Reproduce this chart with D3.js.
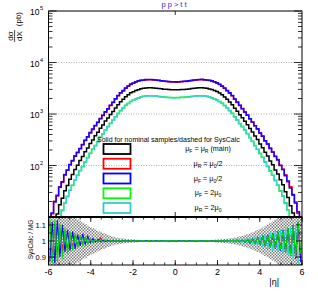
<!DOCTYPE html>
<html><head><meta charset="utf-8">
<script src="https://cdnjs.cloudflare.com/ajax/libs/d3/7.8.5/d3.min.js"></script>
<style>
html,body{margin:0;padding:0;background:#fff;}
svg{display:block;font-family:"Liberation Sans",Arial,Helvetica,sans-serif;}
</style></head>
<body>
<svg id="c" width="318" height="291"></svg>
<script>
// ---- data ----
const etaMin = -6, etaMax = 6, nBins = 100;
const xTicks = [-6, -4, -2, 0, 2, 4, 6];
const yTicksMain = [1e2, 1e3, 1e4, 1e5];
const yTickExp = ["2", "3", "4", "5"];
const ratioTicks = [0.9, 1.0, 1.1];
const ratioTickLabels = ["0.9", "1", "1.1"];
const titleText = "p p > t t";
const legendHeader = "Solid for nominal samples/dashed for SysCalc";
const legendLabels = ["μ_F = μ_R (main)", "μ_R = μ_0/2", "μ_F = μ_0/2", "μ_F = 2μ_0", "μ_R = 2μ_0"];
const seriesColors = ["#000000", "#ff0000", "#1a00ff", "#00ee00", "#3cd6c8"];
const legendColors = ["#000000", "#ff0000", "#0000ff", "#00ff00", "#33cccc"];

const mainVals = [3.2,4.7,8.1,11.4,17.3,23.0,32.2,41.0,54.3,66.8,84,101,125,150,185,218,266,314,380,443,530,613,728,838,982,1116,1306,1508,1722,1925,2165,2360,2576,2710,2865,2972,3082,3155,3212,3230,3240,3200,3165,3112,3080,3030,3010,2980,2970,2945,
  2958,2962,2990,3001,3040,3070,3125,3158,3212,3230,3242,3200,3168,3070,2985,2850,2722,2565,2372,2150,1940,1708,1520,1295,1128,972,848,720,621,522,449,372,319,261,222,181,153,122,103,82,68.5,52.6,42.3,30.9,23.9,16.6,12.0,7.6,5.1,2.8];
const muR05Vals = [8.6,11.6,20.2,25.5,38.6,47.0,66.9,80.5,104,122,154,177,211,253,306,358,430,502,592,685,808,936,1086,1252,1462,1665,1946,2250,2552,2808,3152,3440,3752,3950,4172,4335,4468,4518,4590,4622,4622,4572,4498,4448,4365,4315,4255,4228,4168,4160,
  4150,4180,4220,4262,4300,4372,4430,4505,4560,4625,4630,4580,4525,4455,4340,4160,3962,3735,3450,3140,2820,2540,2262,1935,1680,1455,1260,1080,945,808,690,590,508,428,372,300,262,219,180,152,131,101,85,66,48.5,38.5,26.5,19.6,11.8,8.1];
const muF05Vals = [8.2,12.0,19.5,26.3,37.8,48.2,65.7,82,103,125,152,180,214,257,310,363,436,510,600,695,820,950,1102,1270,1485,1690,1975,2285,2590,2850,3200,3492,3810,4010,4235,4400,4535,4585,4660,4690,4692,4640,4565,4515,4430,4380,4320,4290,4230,4222,
  4210,4245,4278,4332,4368,4442,4500,4580,4628,4695,4705,4650,4598,4520,4412,4220,4025,3795,3505,3185,2865,2575,2298,1960,1705,1472,1282,1090,960,810,702,592,516,430,369,304,262,213,183,149,128,100,84,63.5,49.8,36.5,27.3,18.7,12.6,7.6];
const muF2Vals = [1.6,2.5,4.4,6.5,9.6,13.6,18.7,25.2,32.9,41.5,51.7,64.5,79.9,95.5,117,143,171,207,245,292,352,413,490,570,660,760,888,1028,1170,1312,1472,1608,1755,1856,1962,2050,2140,2200,2238,2256,2265,2248,2226,2192,2165,2130,2116,2100,2092,2078,
  2082,2090,2105,2115,2135,2162,2196,2222,2252,2262,2262,2236,2205,2132,2062,1955,1862,1752,1616,1468,1320,1166,1032,884,766,657,570,487,416,350,295,245,207,172,144,118,96.0,79.2,64.8,51.8,41.5,32.5,25.3,18.9,13.6,9.6,6.6,4.3,2.6,1.5];
const muR2Vals = [1.5,2.4,4.3,6.3,9.7,13.2,19.0,24.7,32.6,40.8,52.0,63.6,79.4,94.2,118,141,172,205,243,290,350,410,487,566,656,756,882,1020,1162,1302,1462,1596,1742,1842,1948,2035,2124,2185,2222,2240,2250,2232,2210,2176,2150,2115,2102,2085,2078,2062,
  2068,2072,2092,2096,2122,2144,2182,2204,2238,2245,2248,2218,2192,2116,2048,1940,1850,1738,1605,1455,1310,1155,1026,875,762,650,567,481,414,346,293,242,206,169,143,116,96.5,77.6,65.0,50.6,41.8,31.7,25.5,18.2,13.8,9.3,6.5,4.1,2.6,1.3];

const ratioMuR05 = [1.12,0.89,1.10,0.92,1.08,0.94,1.06,0.95,1.05,0.96,1.04,0.97,1.03,0.98,1.02,0.985,1.012,0.99,1.008,0.993,1.02,0.996,1.006,0.997,1.004,0.998,1.003,0.998,1.002,
  0.999,1.002,0.998,1.001,1.002,0.999,1.001,0.998,1.002,0.999,1.001,1.002,0.998,1.001,0.999,1.002,0.998,1.001,0.999,1.001,0.998,1.002,0.999,1.001,1.002,0.998,1.001,0.999,1.002,0.998,1.001,0.999,1.002,0.998,1.001,1.002,0.999,1.001,0.998,1.002,0.999,1.001,
  0.997,1.003,0.996,1.004,0.995,1.006,0.994,1.007,0.99,1.012,0.988,1.015,0.985,1.02,0.975,1.03,0.97,1.035,0.96,1.05,0.95,1.06,0.94,1.07,0.92,1.09,0.90,1.11,0.88];
const ratioMuF05 = [0.87,1.12,0.86,1.13,0.90,1.10,0.93,1.07,0.94,1.06,0.95,1.04,0.97,1.045,0.98,1.03,0.99,1.015,0.993,1.01,0.995,1.006,0.996,1.004,0.997,1.003,0.998,1.002,0.998,
  1.001,0.998,1.002,0.999,1.001,0.998,1.002,1.0,0.998,1.002,0.999,1.001,0.998,1.002,0.999,1.001,1.002,0.998,1.001,0.999,1.002,0.998,1.001,0.999,1.002,0.998,1.001,1.002,0.999,1.001,0.998,1.002,0.999,1.001,0.998,1.002,0.999,1.001,0.998,1.003,0.997,1.003,
  0.997,1.004,0.996,1.005,0.995,1.007,0.993,1.01,0.988,1.014,0.984,1.02,0.98,1.03,0.97,1.04,0.96,1.05,0.95,1.06,0.94,1.07,0.93,1.08,0.91,1.10,0.89,1.12,0.87];
const ratioMuF2 = [1.14,0.86,1.13,0.87,1.11,0.89,1.08,0.92,1.06,0.94,1.05,0.96,1.03,0.975,1.025,0.98,1.012,0.99,1.008,0.994,1.006,0.996,1.004,0.997,1.003,0.998,1.002,0.999,1.002,
  0.998,1.001,0.999,1.002,0.998,1.001,1.002,0.999,1.001,0.998,1.002,0.999,1.001,0.998,1.002,0.999,1.001,0.998,1.002,0.999,1.001,1.002,0.998,1.001,0.999,1.002,0.998,1.001,0.999,1.002,0.998,1.001,0.999,1.002,0.998,1.001,0.999,1.002,0.998,1.003,0.997,1.004,
  0.996,1.005,0.995,1.006,0.994,1.008,0.992,1.01,0.99,1.013,0.986,1.018,0.982,1.025,0.975,1.035,0.965,1.045,0.955,1.055,0.945,1.065,0.93,1.08,0.91,1.10,0.90,1.12,0.92];
const ratioMuR2 = [0.92,1.07,0.90,1.09,0.93,1.06,0.96,1.04,0.97,1.03,0.975,1.02,0.985,1.015,0.99,1.01,0.993,1.007,0.995,1.005,0.996,1.004,0.997,1.003,0.998,1.002,0.999,1.002,0.998,
  1.001,0.999,1.002,0.998,1.001,0.999,1.002,0.998,1.001,0.999,1.002,0.998,1.001,1.002,0.999,1.001,0.998,1.002,0.999,1.001,0.998,1.002,0.999,1.001,0.998,1.002,0.999,1.001,1.002,0.998,1.001,0.999,1.002,0.998,1.001,0.999,1.002,0.998,1.003,0.997,1.003,0.996,
  1.004,0.995,1.006,0.993,1.008,0.99,1.012,0.986,1.018,0.98,1.025,0.972,1.035,0.96,1.045,0.95,1.055,0.94,1.065,0.93,1.075,0.92,1.085,0.91,1.09,0.89,1.10,0.87,0.84];
const bandErr = [0.30,0.29,0.27,0.25,0.23,0.21,0.19,0.175,0.165,0.155,0.145,0.135,0.125,0.115,0.105,0.095,0.087,0.08,0.072,0.064,0.057,0.05,0.043,0.037,0.032,0.027,0.023,0.02,0.017,0.015,0.013,0.011,0.01,0.009,0.008,0.007,0.007,0.006,0.006,0.005,0.005,0.005,0.005,0.005,0.004,0.004,0.004,0.004,0.004,0.004,
  0.004,0.004,0.004,0.004,0.004,0.004,0.005,0.005,0.005,0.005,0.005,0.006,0.006,0.007,0.007,0.008,0.009,0.01,0.011,0.013,0.015,0.016,0.018,0.021,0.024,0.028,0.032,0.037,0.042,0.048,0.054,0.061,0.068,0.076,0.084,0.093,0.102,0.112,0.122,0.133,0.145,0.158,0.172,0.187,0.20,0.22,0.24,0.26,0.28,0.30];

const mainSeries = [mainVals, muR05Vals, muF05Vals, muF2Vals, muR2Vals];
const ratioSeries = [ratioMuR05, ratioMuR2, ratioMuF05, ratioMuF2];
const ratioColors = ["#ff0000", "#22d8d0", "#1a00ff", "#00dd00"];

// ---- layout ----
const svg = d3.select("#c");
const L = 48.5, R = 302, T = 11, B = 217, RB = 265;
const x = d3.scaleLinear().domain([etaMin, etaMax]).range([L, R]);
const y = d3.scaleLog().domain([10, 1e5]).range([B, T]);
const yr = d3.scaleLinear().domain([0.85, 1.15]).range([RB, B]);
const bw = (etaMax - etaMin) / nBins;
const edges = d3.range(nBins + 1).map(i => etaMin + i * bw);
const centers = d3.range(nBins).map(i => etaMin + (i + 0.5) * bw);

const defs = svg.append("defs");
defs.append("clipPath").attr("id", "clipMain").append("rect")
  .attr("x", L).attr("y", T).attr("width", R - L).attr("height", B - T);
defs.append("clipPath").attr("id", "clipRatio").append("rect")
  .attr("x", L).attr("y", B).attr("width", R - L).attr("height", RB - B);
const pat = defs.append("pattern").attr("id", "chk").attr("width", 3).attr("height", 3)
  .attr("patternUnits", "userSpaceOnUse");
pat.append("rect").attr("width", 3).attr("height", 3).attr("fill", "#ffffff");
pat.append("rect").attr("width", 1.5).attr("height", 1.5).attr("fill", "#7a7a7a");
pat.append("rect").attr("x", 1.5).attr("y", 1.5).attr("width", 1.5).attr("height", 1.5).attr("fill", "#7a7a7a");

// title
svg.append("text").attr("x", 174).attr("y", 7).attr("text-anchor", "middle")
  .attr("font-size", 7.5).attr("fill", "#2b2bcc").text(titleText);

// grid
const gMain = svg.append("g");
gMain.selectAll("line.grid").data([1e2, 1e3, 1e4]).join("line")
  .attr("x1", L).attr("x2", R).attr("y1", d => y(d)).attr("y2", d => y(d))
  .attr("stroke", "#9a9a9a").attr("stroke-width", 0.8).attr("stroke-dasharray", "1,1.5");

// histograms
const stepLine = d3.line().x(d => d[0]).y(d => d[1]);
function stepPoints(vals) {
  const pts = [];
  vals.forEach((v, i) => { pts.push([x(edges[i]), y(v)]); pts.push([x(edges[i + 1]), y(v)]); });
  return pts;
}
const gHist = gMain.append("g").attr("clip-path", "url(#clipMain)");
[1, 2, 3, 4, 0].forEach(k => {
  gHist.append("path").attr("d", stepLine(stepPoints(mainSeries[k])))
    .attr("fill", "none").attr("stroke", seriesColors[k]).attr("stroke-width", 1.5);
});

// main frame
gMain.append("rect").attr("x", L).attr("y", T).attr("width", R - L).attr("height", B - T)
  .attr("fill", "none").attr("stroke", "#000").attr("stroke-width", 1);
gMain.append("line").attr("x1", L).attr("x2", R).attr("y1", T).attr("y2", T)
  .attr("stroke", "#7d7d7d").attr("stroke-width", 1.8);

// y ticks main (log)
const minorVals = [];
[10, 100, 1000, 10000].forEach(dec => { for (let m = 2; m <= 9; m++) minorVals.push(dec * m); });
const gTk = gMain.append("g").attr("stroke", "#000").attr("stroke-width", 0.8);
gTk.selectAll("line.mn").data(minorVals).join("line")
  .attr("x1", L).attr("x2", L + 4).attr("y1", d => y(d)).attr("y2", d => y(d));
gTk.selectAll("line.mnr").data(minorVals).join("line")
  .attr("x1", R).attr("x2", R - 4).attr("y1", d => y(d)).attr("y2", d => y(d));
gTk.selectAll("line.mj").data(yTicksMain).join("line")
  .attr("x1", L).attr("x2", L + 8).attr("y1", d => y(d)).attr("y2", d => y(d));
gTk.selectAll("line.mjr").data(yTicksMain).join("line")
  .attr("x1", R).attr("x2", R - 8).attr("y1", d => y(d)).attr("y2", d => y(d));
gTk.append("line").attr("x1", x(0)).attr("x2", x(0)).attr("y1", T).attr("y2", T + 4);
gTk.append("line").attr("x1", x(0)).attr("x2", x(0)).attr("y1", B).attr("y2", B - 5);

// y tick labels
yTicksMain.forEach((v, i) => {
  svg.append("text").attr("x", 39.5).attr("y", y(v) + 4).attr("text-anchor", "end")
    .attr("font-size", 8.5).text("10");
  svg.append("text").attr("x", 40).attr("y", y(v) - 1).attr("font-size", 5.5).text(yTickExp[i]);
});

// y title
svg.append("text").attr("transform", "translate(20.5,12) rotate(-90)").attr("text-anchor", "end")
  .attr("font-size", 8).text("(pb)");
svg.append("text").attr("transform", "translate(13,36) rotate(-90)").attr("text-anchor", "middle")
  .attr("font-size", 8).text("dσ");
svg.append("text").attr("transform", "translate(21.5,36) rotate(-90)").attr("text-anchor", "middle")
  .attr("font-size", 8).text("dX");
svg.append("line").attr("x1", 14.6).attr("x2", 14.6).attr("y1", 30).attr("y2", 42)
  .attr("stroke", "#000").attr("stroke-width", 0.7);

// legend
function richText(sel, str, fs) {
  const parts = str.split(/(_.)/).filter(s => s.length);
  let shifted = false;
  parts.forEach(p => {
    if (p[0] === "_") {
      sel.append("tspan").attr("font-size", fs * 0.7).attr("dy", 1.8).text(p[1]);
      shifted = true;
    } else {
      const t = sel.append("tspan").attr("font-size", fs).text(p);
      if (shifted) { t.attr("dy", -1.8); shifted = false; }
    }
  });
}
svg.append("text").attr("x", 97).attr("y", 141.5).attr("font-size", 7).text(legendHeader);
const rowY = d3.range(5).map(i => 149 + i * 14.75);
legendLabels.forEach((lab, i) => {
  svg.append("rect").attr("x", 103.5).attr("y", rowY[i] - 5).attr("width", 27).attr("height", 10)
    .attr("fill", "none").attr("stroke", legendColors[i]).attr("stroke-width", 1.8);
  const t = svg.append("text").attr("x", 208).attr("y", rowY[i] + 2.2).attr("text-anchor", "middle");
  richText(t, lab, 7.2);
});

// ---- ratio pad ----
svg.append("rect").attr("x", 0).attr("y", B).attr("width", 318).attr("height", 291 - B).attr("fill", "#fff");
const gR = svg.append("g");
const gRc = gR.append("g").attr("clip-path", "url(#clipRatio)");
gRc.selectAll("rect.band").data(bandErr).join("rect")
  .attr("x", (d, i) => x(edges[i])).attr("width", (d, i) => x(edges[i + 1]) - x(edges[i]) + 0.3)
  .attr("y", d => yr(1 + d)).attr("height", d => yr(1 - d) - yr(1 + d))
  .attr("fill", "url(#chk)");
const rline = d3.line().x((d, i) => x(centers[i])).y(d => yr(d));
ratioSeries.forEach((s, k) => {
  gRc.append("path").attr("d", rline(s)).attr("fill", "none")
    .attr("stroke", ratioColors[k]).attr("stroke-width", 1.1);
});
gR.append("rect").attr("x", L).attr("y", B).attr("width", R - L).attr("height", RB - B)
  .attr("fill", "none").attr("stroke", "#000").attr("stroke-width", 1);
gR.append("line").attr("x1", L).attr("x2", R).attr("y1", B).attr("y2", B)
  .attr("stroke", "#000").attr("stroke-width", 2);

const gRt = gR.append("g").attr("stroke", "#000").attr("stroke-width", 0.8);
const xMinor = d3.range(-6, 6.01, 0.5);
gRt.selectAll("line.xb").data(xMinor).join("line")
  .attr("x1", d => x(d)).attr("x2", d => x(d)).attr("y1", RB).attr("y2", RB - 2.5);
gRt.selectAll("line.xt").data(xMinor).join("line")
  .attr("x1", d => x(d)).attr("x2", d => x(d)).attr("y1", B).attr("y2", B + 2.5);
gRt.selectAll("line.xbm").data(xTicks).join("line")
  .attr("x1", d => x(d)).attr("x2", d => x(d)).attr("y1", RB).attr("y2", RB - 5);
gRt.selectAll("line.xtm").data(xTicks).join("line")
  .attr("x1", d => x(d)).attr("x2", d => x(d)).attr("y1", B).attr("y2", B + 5);
const rMinor = [0.95, 1.05];
gRt.selectAll("line.rl").data(ratioTicks).join("line")
  .attr("x1", L).attr("x2", L + 6).attr("y1", d => yr(d)).attr("y2", d => yr(d));
gRt.selectAll("line.rr").data(ratioTicks).join("line")
  .attr("x1", R).attr("x2", R - 6).attr("y1", d => yr(d)).attr("y2", d => yr(d));
gRt.selectAll("line.rlm").data(rMinor).join("line")
  .attr("x1", L).attr("x2", L + 3).attr("y1", d => yr(d)).attr("y2", d => yr(d));
gRt.selectAll("line.rrm").data(rMinor).join("line")
  .attr("x1", R).attr("x2", R - 3).attr("y1", d => yr(d)).attr("y2", d => yr(d));

ratioTicks.forEach((v, i) => {
  svg.append("text").attr("x", 46).attr("y", yr(v) + 2.8).attr("text-anchor", "end")
    .attr("font-size", 7.5).text(ratioTickLabels[i]);
});
svg.append("text").attr("transform", "translate(32.5,239.5) rotate(-90)").attr("text-anchor", "middle")
  .attr("font-size", 6.5).text("SysCalc / MG");

xTicks.forEach(v => {
  svg.append("text").attr("x", x(v)).attr("y", 274.5).attr("text-anchor", "middle")
    .attr("font-size", 9).text(v < 0 ? "-" + Math.abs(v) : String(v));
});
svg.append("text").attr("x", 279).attr("y", 285).attr("text-anchor", "end")
  .attr("font-size", 9).text("|η|");
</script>
</body></html>
